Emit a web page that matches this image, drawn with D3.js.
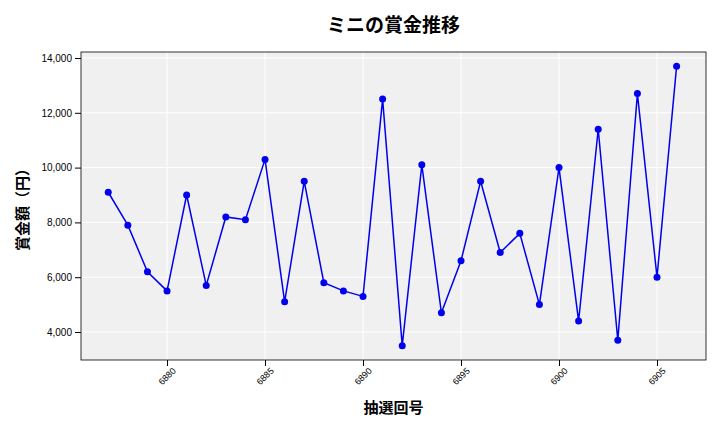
<!DOCTYPE html>
<html><head><meta charset="utf-8">
<script src="https://cdn.jsdelivr.net/npm/d3@7"></script>
<style>body{margin:0;background:#fff;font-family:"Noto Sans CJK JP","Noto Sans",sans-serif;}</style>
</head><body><div id="chart"></div>
<script>
const draws = d3.range(6877, 6907);
const prizes = [9100,7900,6200,5500,9000,5700,8200,8100,10300,5100,9500,5800,5500,5300,12500,3500,10100,4700,6600,9500,6900,7600,5000,10000,4400,11400,3700,12700,6000,13700];
const xTicks = [6880,6885,6890,6895,6900,6905];
const yTicks = [4000,6000,8000,10000,12000,14000];

const W = 720, H = 432;
const m = {top: 52, right: 14, bottom: 72, left: 81};
const w = W - m.left - m.right, h = H - m.top - m.bottom;
const svg = d3.select("#chart").append("svg").attr("width", W).attr("height", H);
const g = svg.append("g").attr("transform", `translate(${m.left},${m.top})`);

const x = d3.scaleLinear().domain([6875.61, 6907.5]).range([0, w]);
const y = d3.scaleLinear().domain([2978, 14219]).range([h, 0]);

g.append("rect").attr("width", w).attr("height", h).attr("fill", "#f0f0f0");
g.selectAll(".vg").data(xTicks).join("line").attr("x1", d => x(d)).attr("x2", d => x(d))
  .attr("y1", 0).attr("y2", h).attr("stroke", "#fff").attr("stroke-width", 1);
g.selectAll(".hg").data(yTicks).join("line").attr("y1", d => y(d)).attr("y2", d => y(d))
  .attr("x1", 0).attr("x2", w).attr("stroke", "#fff").attr("stroke-width", 1);
g.append("rect").attr("width", w).attr("height", h).attr("fill", "none").attr("stroke", "#000").attr("stroke-width", 0.8);

const xa = g.append("g").attr("transform", `translate(0,${h})`)
  .call(d3.axisBottom(x).tickValues(xTicks).tickFormat(d3.format("d")).tickSizeOuter(0));
xa.selectAll("text").attr("transform", "rotate(-45)").attr("text-anchor", "end")
  .attr("dx", "-0.2em").attr("dy", "0.6em").style("font-size", "9px");
const ya = g.append("g").call(d3.axisLeft(y).tickValues(yTicks).tickFormat(d3.format(",")).tickSizeOuter(0));
ya.selectAll("text").style("font-size", "10px");
g.selectAll(".domain").remove();

g.append("path").datum(draws.map((d, i) => [d, prizes[i]]))
  .attr("fill", "none").attr("stroke", "#0000ee").attr("stroke-width", 1.5)
  .attr("d", d3.line().x(d => x(d[0])).y(d => y(d[1])));
g.selectAll(".pt").data(draws.map((d, i) => [d, prizes[i]])).join("circle")
  .attr("cx", d => x(d[0])).attr("cy", d => y(d[1])).attr("r", 3.5).attr("fill", "#0000ee");

svg.append("text").attr("x", m.left + w / 2).attr("y", 32).attr("text-anchor", "middle")
  .style("font-size", "19px").style("font-weight", "bold").text("ミニの賞金推移");
svg.append("text").attr("x", m.left + w / 2).attr("y", 413).attr("text-anchor", "middle")
  .style("font-size", "15px").style("font-weight", "bold").text("抽選回号");
svg.append("text").attr("transform", `translate(28,${m.top + h / 2}) rotate(-90)`).attr("text-anchor", "middle")
  .style("font-size", "15px").style("font-weight", "bold").text("賞金額（円）");
</script></body></html>
